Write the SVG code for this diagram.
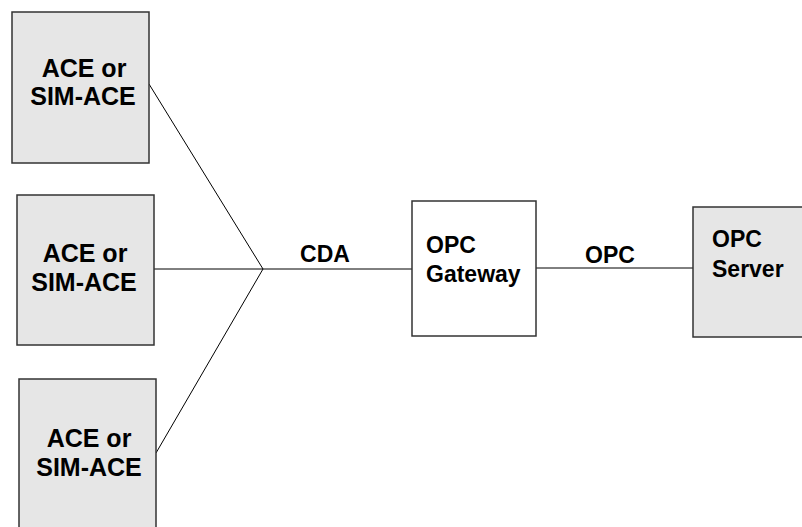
<svg xmlns="http://www.w3.org/2000/svg" width="802" height="527" viewBox="0 0 802 527">
<style>
.box{stroke:#333;stroke-width:1.5}
.grey{fill:#e6e6e6}
.white{fill:#fff}
.t{font-family:"Liberation Sans",Arial,sans-serif;font-weight:bold;font-size:23px;fill:#000}
.a{font-size:25px}
.m{text-anchor:middle}
.c{stroke:#000;stroke-width:1;fill:none}
</style>
<rect width="802" height="527" fill="#fff"/>
<g id="connectors">
<line class="c" x1="149" y1="84" x2="263" y2="269"/>
<line class="c" x1="154" y1="269" x2="412" y2="269"/>
<line class="c" x1="156" y1="453" x2="263" y2="269"/>
<line class="c" x1="536" y1="268" x2="693" y2="268"/>
<text class="t m" x="325" y="262">CDA</text>
<text class="t m" x="610" y="263">OPC</text>
</g>
<g id="ace1">
<rect class="box grey" x="12" y="12" width="137" height="151"/>
<text class="t a m" x="84" y="77">ACE or</text>
<text class="t a m" x="83" y="105">SIM-ACE</text>
</g>
<g id="ace2">
<rect class="box grey" x="17" y="195" width="137" height="150"/>
<text class="t a m" x="85" y="262">ACE or</text>
<text class="t a m" x="84" y="291">SIM-ACE</text>
</g>
<g id="ace3">
<rect class="box grey" x="19" y="379" width="137" height="160"/>
<text class="t a m" x="89" y="447">ACE or</text>
<text class="t a m" x="89" y="476">SIM-ACE</text>
</g>
<g id="gateway">
<rect class="box white" x="412" y="201" width="124" height="135"/>
<text class="t" x="426" y="253">OPC</text>
<text class="t" x="426" y="282">Gateway</text>
</g>
<g id="server">
<rect class="box grey" x="693" y="207" width="120" height="130"/>
<text class="t" x="712" y="247">OPC</text>
<text class="t" x="712" y="277">Server</text>
</g>
</svg>
